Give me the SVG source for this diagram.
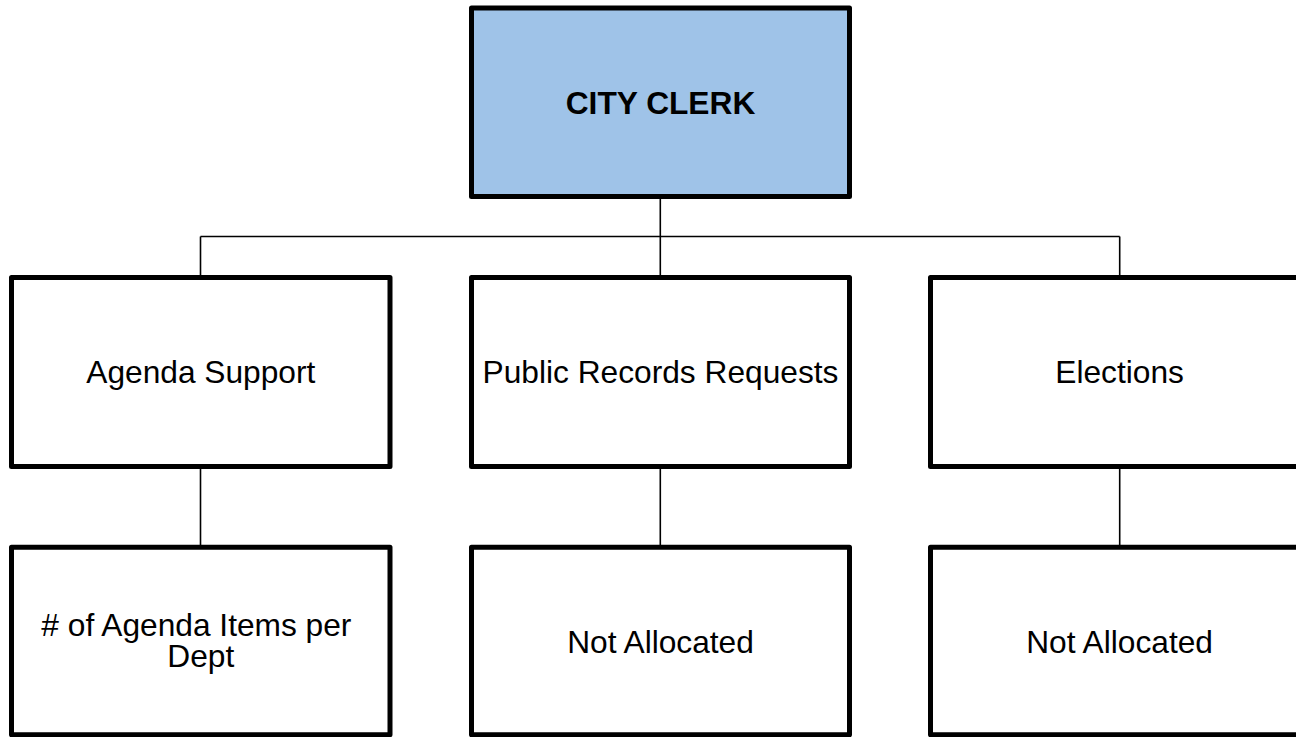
<svg xmlns="http://www.w3.org/2000/svg" width="1296" height="737" viewBox="0 0 1296 737">
<style>
.box{fill:#ffffff;stroke:#000000;stroke-width:5;stroke-linejoin:round}
.top{fill:#9FC3E8}
.lbl{font-family:"Liberation Sans",Arial,sans-serif;font-size:31.7px;fill:#000000;text-anchor:middle}
.bold{font-weight:bold}
.conn{fill:none;stroke:#000000;stroke-width:1.6}
</style>
<rect width="1296" height="737" fill="#ffffff"/>
<g id="connectors">
<path class="conn" d="M660.3,196.5 V236.5 M200.5,236.5 H1119.7 M200.5,236.5 V277.5 M660.3,236.5 V277.5 M1119.7,236.5 V277.5"/>
<path class="conn" d="M200.5,466.7 V547.2 M660.3,466.7 V547.2 M1119.7,466.7 V547.2"/>
</g>
<g id="city-clerk">
<rect class="box top" x="471.5" y="8" width="378" height="188.5"/>
<text class="lbl bold" x="660.5" y="114">CITY CLERK</text>
</g>
<g id="agenda-support">
<rect class="box" x="11.5" y="277.5" width="378.5" height="189"/>
<text class="lbl" x="200.8" y="383">Agenda Support</text>
</g>
<g id="public-records">
<rect class="box" x="471.5" y="277.5" width="378" height="189"/>
<text class="lbl" x="660.5" y="383">Public Records Requests</text>
</g>
<g id="elections">
<rect class="box" x="930.5" y="277.5" width="378" height="189"/>
<text class="lbl" x="1119.6" y="383">Elections</text>
</g>
<g id="agenda-items">
<rect class="box" x="11.5" y="547.2" width="378.5" height="187.5"/>
<text class="lbl" x="200.8" y="635.5">
<tspan x="200.8" y="635.5"># of Agenda Items per</tspan>
<tspan x="200.8" y="666.5">Dept</tspan>
</text>
</g>
<g id="public-records-alloc">
<rect class="box" x="471.5" y="547.2" width="378" height="187.5"/>
<text class="lbl" x="660.5" y="653">Not Allocated</text>
</g>
<g id="elections-alloc">
<rect class="box" x="930.5" y="547.2" width="378" height="187.5"/>
<text class="lbl" x="1119.6" y="653">Not Allocated</text>
</g>
</svg>
